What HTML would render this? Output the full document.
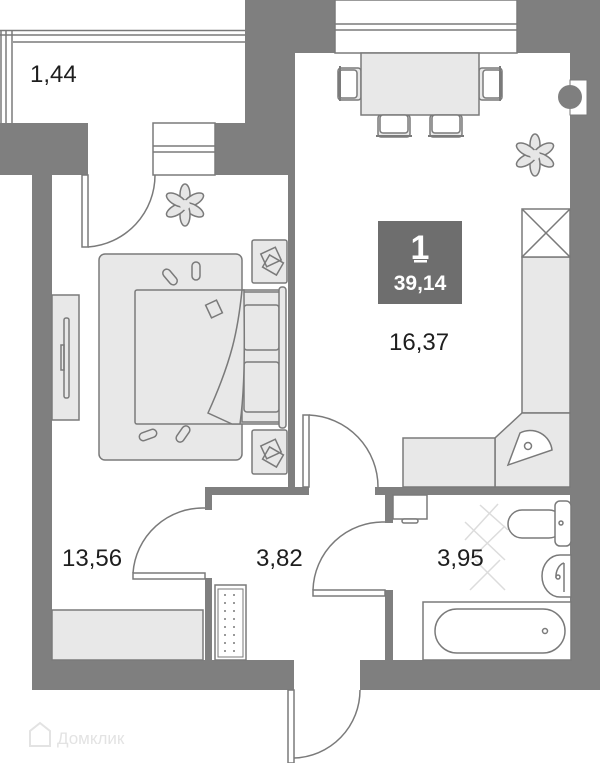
<!DOCTYPE html>
<html><head><meta charset="utf-8"><style>
html,body{margin:0;padding:0;background:#fff;width:600px;height:763px;overflow:hidden}
svg{display:block}
text{font-family:"Liberation Sans",sans-serif}
</style></head><body>
<svg width="600" height="763" viewBox="0 0 600 763" xmlns="http://www.w3.org/2000/svg">
<defs>
<g id="plant">
<g fill="#e6e6e6" stroke="#7a7a7a" stroke-width="1.5">
<ellipse cx="0" cy="-10" rx="5" ry="11"/>
<ellipse cx="0" cy="-10" rx="5" ry="11" transform="rotate(60)"/>
<ellipse cx="0" cy="-10" rx="5" ry="11" transform="rotate(120)"/>
<ellipse cx="0" cy="-10" rx="5" ry="11" transform="rotate(180)"/>
<ellipse cx="0" cy="-10" rx="5" ry="11" transform="rotate(240)"/>
<ellipse cx="0" cy="-10" rx="5" ry="11" transform="rotate(300)"/>
</g>
<circle r="5" fill="#e6e6e6"/>
</g>
</defs>
<g fill="none" stroke="#7a7a7a" stroke-width="1.5">
<line x1="0" y1="30.5" x2="245" y2="30.5"/>
<line x1="0" y1="35" x2="245" y2="35"/>
<line x1="13" y1="42" x2="245" y2="42"/>
<line x1="1" y1="30" x2="1" y2="123"/>
<line x1="6" y1="30" x2="6" y2="123"/>
<line x1="12" y1="30" x2="12" y2="123"/>
</g>
<g fill="#7f7f7f">
<rect x="0" y="123" width="88" height="52"/>
<rect x="32" y="175" width="20" height="515"/>
<rect x="215" y="123" width="80" height="52"/>
<rect x="245" y="0" width="50" height="123"/>
<rect x="295" y="0" width="40" height="53"/>
<rect x="517" y="0" width="83" height="53"/>
<rect x="570" y="0" width="30" height="690"/>
<rect x="288" y="175" width="7" height="320"/>
<rect x="205" y="487" width="104" height="8"/>
<rect x="205" y="487" width="7" height="23"/>
<rect x="205" y="578" width="7" height="82"/>
<rect x="32" y="660" width="262" height="30"/>
<rect x="360" y="660" width="240" height="30"/>
<rect x="375" y="487" width="196" height="8"/>
<rect x="385" y="487" width="8" height="36"/>
<rect x="385" y="590" width="8" height="70"/>
</g>
<rect x="570" y="80" width="17" height="35" fill="#fff" stroke="#7a7a7a" stroke-width="1"/>
<circle cx="570" cy="97" r="12" fill="#7f7f7f"/>
<g fill="#fff" stroke="#7a7a7a" stroke-width="1.5">
<rect x="335" y="0" width="182" height="53"/>
<line x1="335" y1="24" x2="517" y2="24"/>
<line x1="335" y1="30" x2="517" y2="30"/>
<rect x="153" y="123" width="62" height="52"/>
<line x1="153" y1="146" x2="215" y2="146"/>
<line x1="153" y1="152" x2="215" y2="152"/>
<rect x="82" y="175" width="6" height="72"/>
<path d="M88 247 A72 72 0 0 0 155 175" fill="none"/>
<rect x="303" y="415" width="6" height="72"/>
<path d="M309 415 A72 72 0 0 1 378 487" fill="none"/>
<rect x="133" y="573" width="72" height="6"/>
<path d="M133 573 A70 70 0 0 1 205 508" fill="none"/>
<rect x="313" y="590" width="72" height="6"/>
<path d="M313 590 A70 70 0 0 1 385 522" fill="none"/>
<rect x="288" y="690" width="6" height="73"/>
<path d="M360 690 A68 68 0 0 1 294 758" fill="none"/>
</g>
<g fill="#e8e8e8" stroke="#7a7a7a" stroke-width="1.5">
<rect x="338" y="68" width="23" height="32" rx="3"/>
<rect x="479" y="68" width="23" height="32" rx="3"/>
<rect x="378" y="115" width="32" height="22" rx="3"/>
<rect x="430" y="115" width="32" height="22" rx="3"/>
<rect x="361" y="53" width="118" height="62"/>
</g>
<g fill="#fff" stroke="#7a7a7a" stroke-width="1.5">
<rect x="339" y="70" width="18" height="28" rx="3"/>
<rect x="483" y="70" width="18" height="28" rx="3"/>
<rect x="380" y="115" width="28" height="18" rx="3"/>
<rect x="432" y="115" width="28" height="18" rx="3"/>
</g>
<g fill="none" stroke="#7a7a7a" stroke-width="2">
<line x1="340" y1="66" x2="340" y2="101"/><line x1="500" y1="66" x2="500" y2="101"/>
<line x1="376" y1="136" x2="412" y2="136"/><line x1="428" y1="136" x2="464" y2="136"/>
</g>
<use href="#plant" x="535" y="155"/>
<use href="#plant" x="185" y="205"/>
<g fill="#e8e8e8" stroke="#7a7a7a" stroke-width="1.5">
<rect x="522" y="257" width="48" height="156"/>
<path d="M522 413 L570 413 L570 487 L495 487 L495 438 Z"/>
<rect x="403" y="438" width="92" height="49"/>
<path d="M508 465 L520 433 A22 22 0 0 1 552 450 Z" fill="#fff"/>
<circle cx="528" cy="446" r="3.5" fill="#fff"/>
</g>
<g fill="#fff" stroke="#7a7a7a" stroke-width="1.5">
<rect x="522" y="209" width="48" height="48"/>
<line x1="522" y1="209" x2="570" y2="257"/><line x1="570" y1="209" x2="522" y2="257"/>
</g>
<rect x="378" y="221" width="84" height="83" fill="#6e6e6e"/>
<text x="420" y="259" font-size="34" font-weight="bold" fill="#fff" text-anchor="middle">1</text>
<rect x="414" y="260" width="13" height="2.5" fill="#fff"/>
<text x="420" y="290" font-size="21" font-weight="bold" fill="#fff" text-anchor="middle">39,14</text>
<g fill="#e8e8e8" stroke="#7a7a7a" stroke-width="1.5">
<rect x="52" y="295" width="27" height="125"/>
<rect x="99" y="254" width="143" height="206" rx="6"/>
<rect x="135" y="290" width="145" height="134" rx="2"/>
<rect x="242" y="292" width="40" height="130"/>
<rect x="244" y="305" width="35" height="45" rx="3"/>
<rect x="244" y="362" width="35" height="50" rx="3"/>
<rect x="279" y="287" width="7" height="141" rx="3"/>
<path d="M242 290 C238 330 232 360 208 413 L232 424 L240 424 C246 380 244 330 244 290 Z"/>
<rect x="252" y="240" width="35" height="43" rx="2"/>
<rect x="252" y="430" width="35" height="44" rx="2"/>
<rect x="52" y="610" width="151" height="50"/>
</g>
<g fill="none" stroke="#7a7a7a" stroke-width="1.5">
<rect x="64" y="318" width="5" height="80" rx="2"/>
<rect x="61" y="345" width="3" height="25"/>
<rect x="263" y="250" width="16" height="14" transform="rotate(-25 271 257)"/>
<rect x="265" y="258" width="16" height="14" transform="rotate(30 273 265)"/>
<rect x="263" y="442" width="16" height="14" transform="rotate(-25 271 449)"/>
<rect x="265" y="450" width="16" height="14" transform="rotate(30 273 457)"/>
<rect x="208" y="302" width="12" height="14" transform="rotate(-25 214 309)"/>
<rect x="166" y="268" width="8" height="18" rx="4" transform="rotate(-40 170 277)"/>
<rect x="192" y="262" width="8" height="18" rx="4"/>
<rect x="144" y="426" width="8" height="18" rx="4" transform="rotate(70 148 435)"/>
<rect x="179" y="425" width="8" height="18" rx="4" transform="rotate(35 183 434)"/>
</g>
<rect x="215" y="585" width="31" height="75" fill="#fff" stroke="#7a7a7a" stroke-width="1.5"/>
<rect x="218" y="589" width="25" height="68" fill="none" stroke="#7a7a7a" stroke-width="1"/>
<g fill="#7a7a7a">
<circle cx="225" cy="595" r="1"/><circle cx="234" cy="595" r="1"/>
<circle cx="225" cy="603" r="1"/><circle cx="234" cy="603" r="1"/>
<circle cx="225" cy="611" r="1"/><circle cx="234" cy="611" r="1"/>
<circle cx="225" cy="619" r="1"/><circle cx="234" cy="619" r="1"/>
<circle cx="225" cy="627" r="1"/><circle cx="234" cy="627" r="1"/>
<circle cx="225" cy="635" r="1"/><circle cx="234" cy="635" r="1"/>
<circle cx="225" cy="643" r="1"/><circle cx="234" cy="643" r="1"/>
<circle cx="225" cy="651" r="1"/><circle cx="234" cy="651" r="1"/>
</g>
<g stroke="#dcdcdc" stroke-width="1.5" fill="none">
<line x1="465" y1="522" x2="505" y2="560"/><line x1="470" y1="560" x2="505" y2="526"/>
<line x1="480" y1="505" x2="508" y2="530"/><line x1="465" y1="540" x2="498" y2="504"/>
<line x1="470" y1="590" x2="500" y2="560"/><line x1="475" y1="560" x2="505" y2="590"/>
</g>
<g fill="#fff" stroke="#7a7a7a" stroke-width="1.5">
<rect x="393" y="495" width="34" height="24"/>
<rect x="402" y="519" width="16" height="4" rx="2"/>
<rect x="423" y="602" width="148" height="58"/>
<rect x="435" y="609" width="130" height="44" rx="22"/>
<circle cx="545" cy="631" r="2.5"/>
<rect x="508" y="510" width="55" height="28" rx="14"/>
<rect x="555" y="501" width="16" height="45" rx="5"/>
<circle cx="561" cy="523" r="2"/>
<path d="M571 555 L560 555 A18 21 0 0 0 560 597 L571 597 Z"/>
<path d="M564 563 A10 14 0 0 0 556 578" fill="none"/>
<line x1="564" y1="563" x2="564" y2="592"/>
<circle cx="558" cy="577" r="2"/>
</g>
<g fill="#1e1e1e" font-size="24">
<text x="30" y="82">1,44</text>
<text x="389" y="350">16,37</text>
<text x="62" y="566">13,56</text>
<text x="256" y="566">3,82</text>
<text x="437" y="566">3,95</text>
</g>
<path d="M30 746 L30 731 L40 723 L50 731 L50 746 Z" fill="none" stroke="#e3e3e3" stroke-width="2"/>
<text x="57" y="744" font-size="17" fill="#e3e3e3">Домклик</text>
</svg>
</body></html>
